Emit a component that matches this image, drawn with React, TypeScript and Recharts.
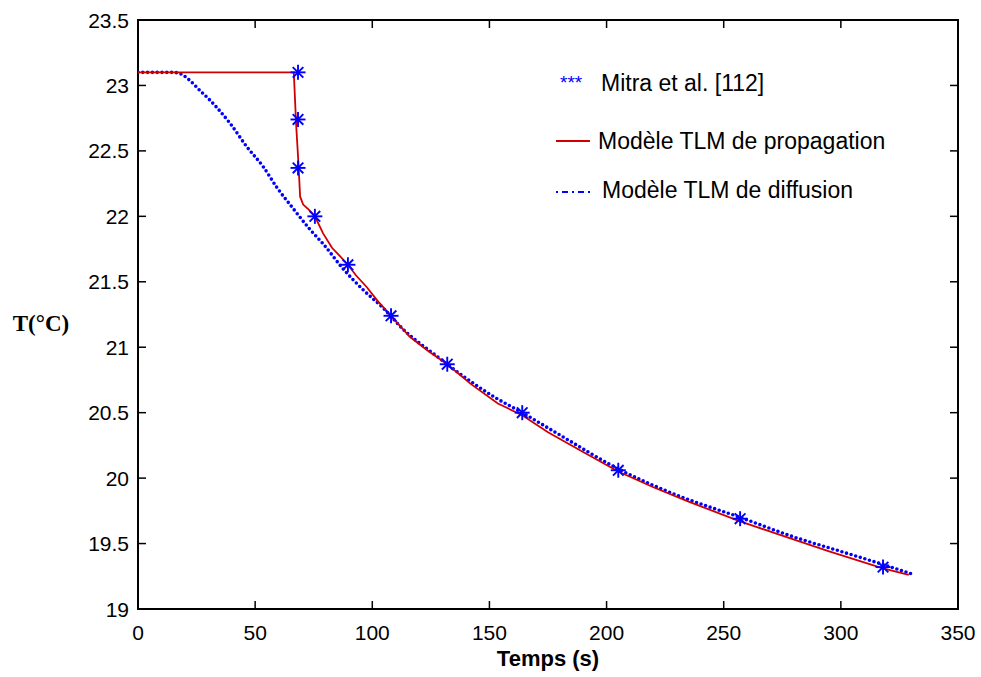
import React from "react";
import { ComposedChart, Line, XAxis, YAxis, ReferenceArea } from "recharts";

// values
const X_TICKS = [0, 50, 100, 150, 200, 250, 300, 350];
const Y_TICKS = [19, 19.5, 20, 20.5, 21, 21.5, 22, 22.5, 23, 23.5];

const LEGEND_LABELS = ["Mitra et al. [112]", "Modèle TLM de propagation", "Modèle TLM de diffusion"];

// Mitra et al. [112] (stars)
const mitraT = [68.3, 68.3, 68.3, 75.5, 89.6, 108, 132, 164, 205, 257, 318];
const mitraV = [23.1, 22.74, 22.37, 22.0, 21.63, 21.24, 20.87, 20.5, 20.06, 19.69, 19.32];

// TLM propagation model (red)
const propT = [0, 66.5, 67.5, 68.5, 69.2, 70.5, 73, 75.5, 79, 82.8, 86, 89.6, 93, 97.6, 102, 108, 116, 124, 132, 142, 153.6, 164, 175, 190, 205, 220, 235, 257, 275, 295, 318, 329];
const propV = [23.1, 23.1, 22.7, 22.4, 22.15, 22.09, 22.05, 22.0, 21.87, 21.76, 21.7, 21.63, 21.55, 21.46, 21.36, 21.24, 21.08, 20.97, 20.87, 20.72, 20.57, 20.48, 20.35, 20.2, 20.05, 19.93, 19.82, 19.67, 19.56, 19.44, 19.31, 19.26];

// TLM diffusion model (blue dotted)
const diffT = [0, 15, 18, 22, 26.5, 30, 33.7, 39.3, 46.5, 53.4, 59.3, 66.2, 73.4, 79, 87.5, 96, 104.6, 113, 127.6, 138.7, 153, 164, 180, 205, 230, 257, 280, 300, 318, 330];
const diffV = [23.1, 23.1, 23.09, 23.04, 22.96, 22.9, 22.83, 22.71, 22.53, 22.38, 22.22, 22.06, 21.9, 21.79, 21.6, 21.44, 21.3, 21.14, 20.93, 20.78, 20.61, 20.5, 20.33, 20.07, 19.87, 19.7, 19.55, 19.44, 19.34, 19.27];

const toRows = (ts: number[], vs: number[]) => ts.map((t, i) => ({ t, T: vs[i] }));
const mitra = toRows(mitraT, mitraV);
const prop = toRows(propT, propV);
const diff = toRows(diffT, diffV);

const W = 981;
const H = 677;
const MARGIN = { top: 20, right: 23, left: 0, bottom: 0 };
const Y_AXIS_W = 138;
const X_AXIS_H = 68;
const PLOT_TOP = MARGIN.top;
const PLOT_BOTTOM = H - MARGIN.bottom - X_AXIS_H;
const PLOT_LEFT = MARGIN.left + Y_AXIS_W;
const PLOT_RIGHT = W - MARGIN.right;
const TICK_LEN = 8;
const SANS = "'Liberation Sans', Arial, Helvetica, sans-serif";
const BLUE = "#0000ff";
const RED = "#d00000";

function XTick({ x, payload }: any) {
  return (
    <g>
      <line x1={x} x2={x} y1={PLOT_BOTTOM} y2={PLOT_BOTTOM - TICK_LEN} stroke="#000" strokeWidth={1.5} />
      <line x1={x} x2={x} y1={PLOT_TOP} y2={PLOT_TOP + TICK_LEN} stroke="#000" strokeWidth={1.5} />
      <text x={x} y={PLOT_BOTTOM + 31} textAnchor="middle" fontSize={21} fontFamily={SANS} fill="#000">
        {payload.value}
      </text>
    </g>
  );
}

function YTick({ y, payload }: any) {
  return (
    <g>
      <line x1={PLOT_LEFT} x2={PLOT_LEFT + TICK_LEN} y1={y} y2={y} stroke="#000" strokeWidth={1.5} />
      <line x1={PLOT_RIGHT} x2={PLOT_RIGHT - TICK_LEN} y1={y} y2={y} stroke="#000" strokeWidth={1.5} />
      <text x={PLOT_LEFT - 9} y={y + 7.5} textAnchor="end" fontSize={21} fontFamily={SANS} fill="#000">
        {payload.value}
      </text>
    </g>
  );
}

function Star({ cx, cy }: any) {
  if (cx == null || cy == null) return null;
  const r = 7.5;
  const d = 5.3;
  return (
    <g stroke={BLUE} strokeWidth={1.9}>
      <line x1={cx - r} x2={cx + r} y1={cy} y2={cy} />
      <line x1={cx} x2={cx} y1={cy - r} y2={cy + r} />
      <line x1={cx - d} x2={cx + d} y1={cy - d} y2={cy + d} />
      <line x1={cx - d} x2={cx + d} y1={cy + d} y2={cy - d} />
    </g>
  );
}

function Overlay() {
  return (
    <svg width={W} height={H} style={{ position: "absolute", left: 0, top: 0, pointerEvents: "none" }}>
      <text x={548} y={666} textAnchor="middle" fontSize={22} fontWeight="bold" fontFamily={SANS}>
        Temps (s)
      </text>
      <text x={41} y={331} textAnchor="middle" fontSize={23} fontWeight="bold" fontFamily="'Liberation Serif', 'Times New Roman', serif">
        T(°C)
      </text>
      {/* legend */}
      <text x={560} y={89} fontSize={19} fill={BLUE} fontFamily={SANS}>***</text>
      <text x={601} y={91} fontSize={23} fontFamily={SANS}>{LEGEND_LABELS[0]}</text>
      <line x1={556} x2={590} y1={141} y2={141} stroke={RED} strokeWidth={1.8} />
      <text x={598} y={149} fontSize={23} fontFamily={SANS}>{LEGEND_LABELS[1]}</text>
      <line x1={556} x2={590} y1={192} y2={192} stroke={BLUE} strokeWidth={1.8} strokeDasharray="2 4 6 4" />
      <text x={602} y={198} fontSize={23} fontFamily={SANS}>{LEGEND_LABELS[2]}</text>
    </svg>
  );
}

export default function App() {
  return (
    <div style={{ position: "absolute", left: 0, top: 0, width: W, height: H, background: "#fff" }}>
      <ComposedChart width={W} height={H} margin={MARGIN}>
        <XAxis
          dataKey="t"
          type="number"
          domain={[0, 350]}
          ticks={X_TICKS}
          allowDataOverflow
          height={X_AXIS_H}
          axisLine={false}
          tickLine={false}
          tickSize={0}
          tick={<XTick />}
          interval={0}
        />
        <YAxis
          dataKey="T"
          type="number"
          domain={[19, 23.5]}
          ticks={Y_TICKS}
          allowDataOverflow
          width={Y_AXIS_W}
          axisLine={false}
          tickLine={false}
          tickSize={0}
          tick={<YTick />}
          interval={0}
        />
        <ReferenceArea x1={0} x2={350} y1={19} y2={23.5} fill="none" stroke="#000" strokeWidth={2} ifOverflow="visible" />
        <Line
          data={diff}
          dataKey="T"
          type="monotone"
          stroke={BLUE}
          strokeWidth={3.6}
          strokeDasharray="0 4.8"
          strokeLinecap="round"
          dot={false}
          activeDot={false}
          isAnimationActive={false}
        />
        <Line
          data={prop}
          dataKey="T"
          type="linear"
          stroke={RED}
          strokeWidth={1.8}
          dot={false}
          activeDot={false}
          isAnimationActive={false}
        />
        <Line
          data={mitra}
          dataKey="T"
          stroke="none"
          dot={<Star />}
          activeDot={false}
          isAnimationActive={false}
        />
      </ComposedChart>
      <Overlay />
    </div>
  );
}
